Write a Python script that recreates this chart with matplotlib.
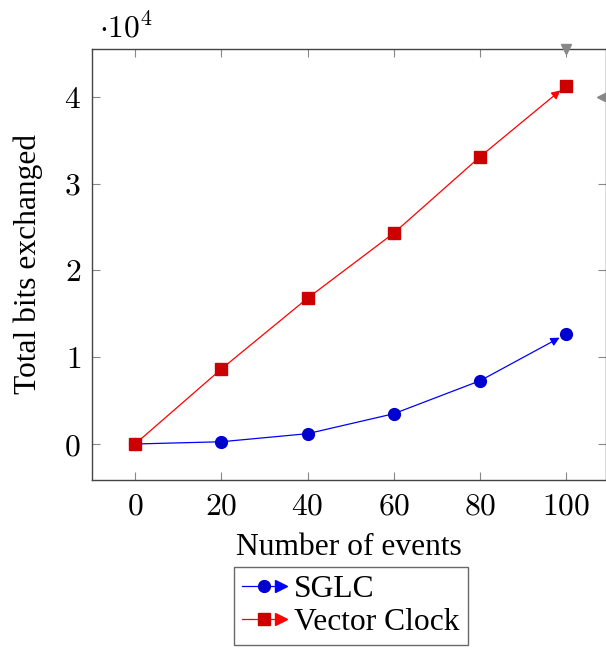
import matplotlib
matplotlib.use("Agg")
import matplotlib.pyplot as plt
from matplotlib.lines import Line2D
from matplotlib.legend_handler import HandlerLine2D
from matplotlib.ticker import FuncFormatter

# text in Times-like serif, numbers in Computer Modern math
plt.rcParams['font.family'] = ['Liberation Serif', 'DejaVu Serif']
plt.rcParams['mathtext.fontset'] = 'cm'

# number of events vs. total bits exchanged
events = [0, 20, 40, 60, 80, 100]
sglc_bits = [0, 260, 1190, 3490, 7290, 12670]
vc_bits = [0, 8640, 16800, 24300, 33100, 41300]

x_ticks = [0, 20, 40, 60, 80, 100]
y_ticks = [0, 10000, 20000, 30000, 40000]

FS = 22.7
AX_COL = '#444444'
TICK_COL = '#888888'


class ArrowLineHandler(HandlerLine2D):
    # legend line with marker in the middle and a stealth tip at the end
    def create_artists(self, legend, orig_handle, xdescent, ydescent,
                       width, height, fontsize, trans):
        arts = super().create_artists(legend, orig_handle, xdescent, ydescent,
                                      width, height, fontsize, trans)
        y = height / 2 - ydescent
        tip = Line2D([width - xdescent - 4], [y], marker='>', markersize=8,
                     color=orig_handle.get_color(), linestyle='none',
                     transform=trans)
        return list(arts) + [tip]


fig = plt.figure(figsize=(6.06, 6.49), dpi=100)
ax = fig.add_axes([0.1518, 0.2604, 0.8482, 0.6641])

series = [
    (sglc_bits, 'blue', '#0000d0', 'o', 8.5, 'SGLC'),
    (vc_bits, 'red', '#cc0000', 's', 8.5, 'Vector Clock'),
]
handles = []
for vals, lc, mc, mk, ms, name in series:
    ax.plot(events[:-1], vals[:-1], color=lc, lw=0.9, zorder=2)
    ax.plot(events, vals, linestyle='none', marker=mk, markersize=ms,
            markerfacecolor=mc, markeredgecolor=mc, zorder=3)
    ax.annotate('', xy=(events[-1], vals[-1]), xytext=(events[-2], vals[-2]),
                arrowprops=dict(arrowstyle='-|>', color=lc, lw=0.9,
                                mutation_scale=13, shrinkA=0, shrinkB=5.5),
                zorder=2)
    handles.append(Line2D([], [], color=lc, lw=0.9, marker=mk, markersize=8.5,
                          markerfacecolor=mc, markeredgecolor=mc, label=name))

ax.set_xlim(-10, 109.2)
ax.set_ylim(-4147, 45507)
ax.set_xticks(x_ticks)
ax.set_yticks(y_ticks)
ax.xaxis.set_major_formatter(FuncFormatter(lambda v, p: f'${v:.0f}$'))
ax.yaxis.set_major_formatter(FuncFormatter(lambda v, p: f'${v / 1e4:.0f}$'))
ax.tick_params(direction='in', length=6, width=0.8, color=TICK_COL,
               labelsize=FS, top=True, right=True)
ax.tick_params(axis='x', pad=9)
ax.tick_params(axis='y', pad=8)
for s in ax.spines.values():
    s.set_color(AX_COL)
    s.set_linewidth(1.0)

# stealth tips on the last tick of the top and right axes
ax.plot([100], [45507], marker='v', markersize=7, color=TICK_COL,
        clip_on=False, transform=ax.transData, zorder=5)
ax.plot([108.3], [40000], marker='<', markersize=7, color=TICK_COL,
        clip_on=False, zorder=5)

ax.set_xlabel('Number of events', fontsize=FS, labelpad=8)
ax.set_ylabel('Total bits exchanged', fontsize=FS, labelpad=15)
fig.text(0.163, 0.943, r'$\cdot 10^{4}$', fontsize=FS, ha='left', va='baseline')

leg = ax.legend(handles=handles, loc='upper center',
                bbox_to_anchor=(0.504, -0.201), fontsize=FS, frameon=True,
                fancybox=False, edgecolor=AX_COL, handlelength=1.4,
                handletextpad=0.25, borderpad=0.25, labelspacing=0.14,
                borderaxespad=0,
                handler_map={Line2D: ArrowLineHandler(numpoints=1)})
leg.get_frame().set_linewidth(1.0)

fig.savefig('out.png', dpi=100)
